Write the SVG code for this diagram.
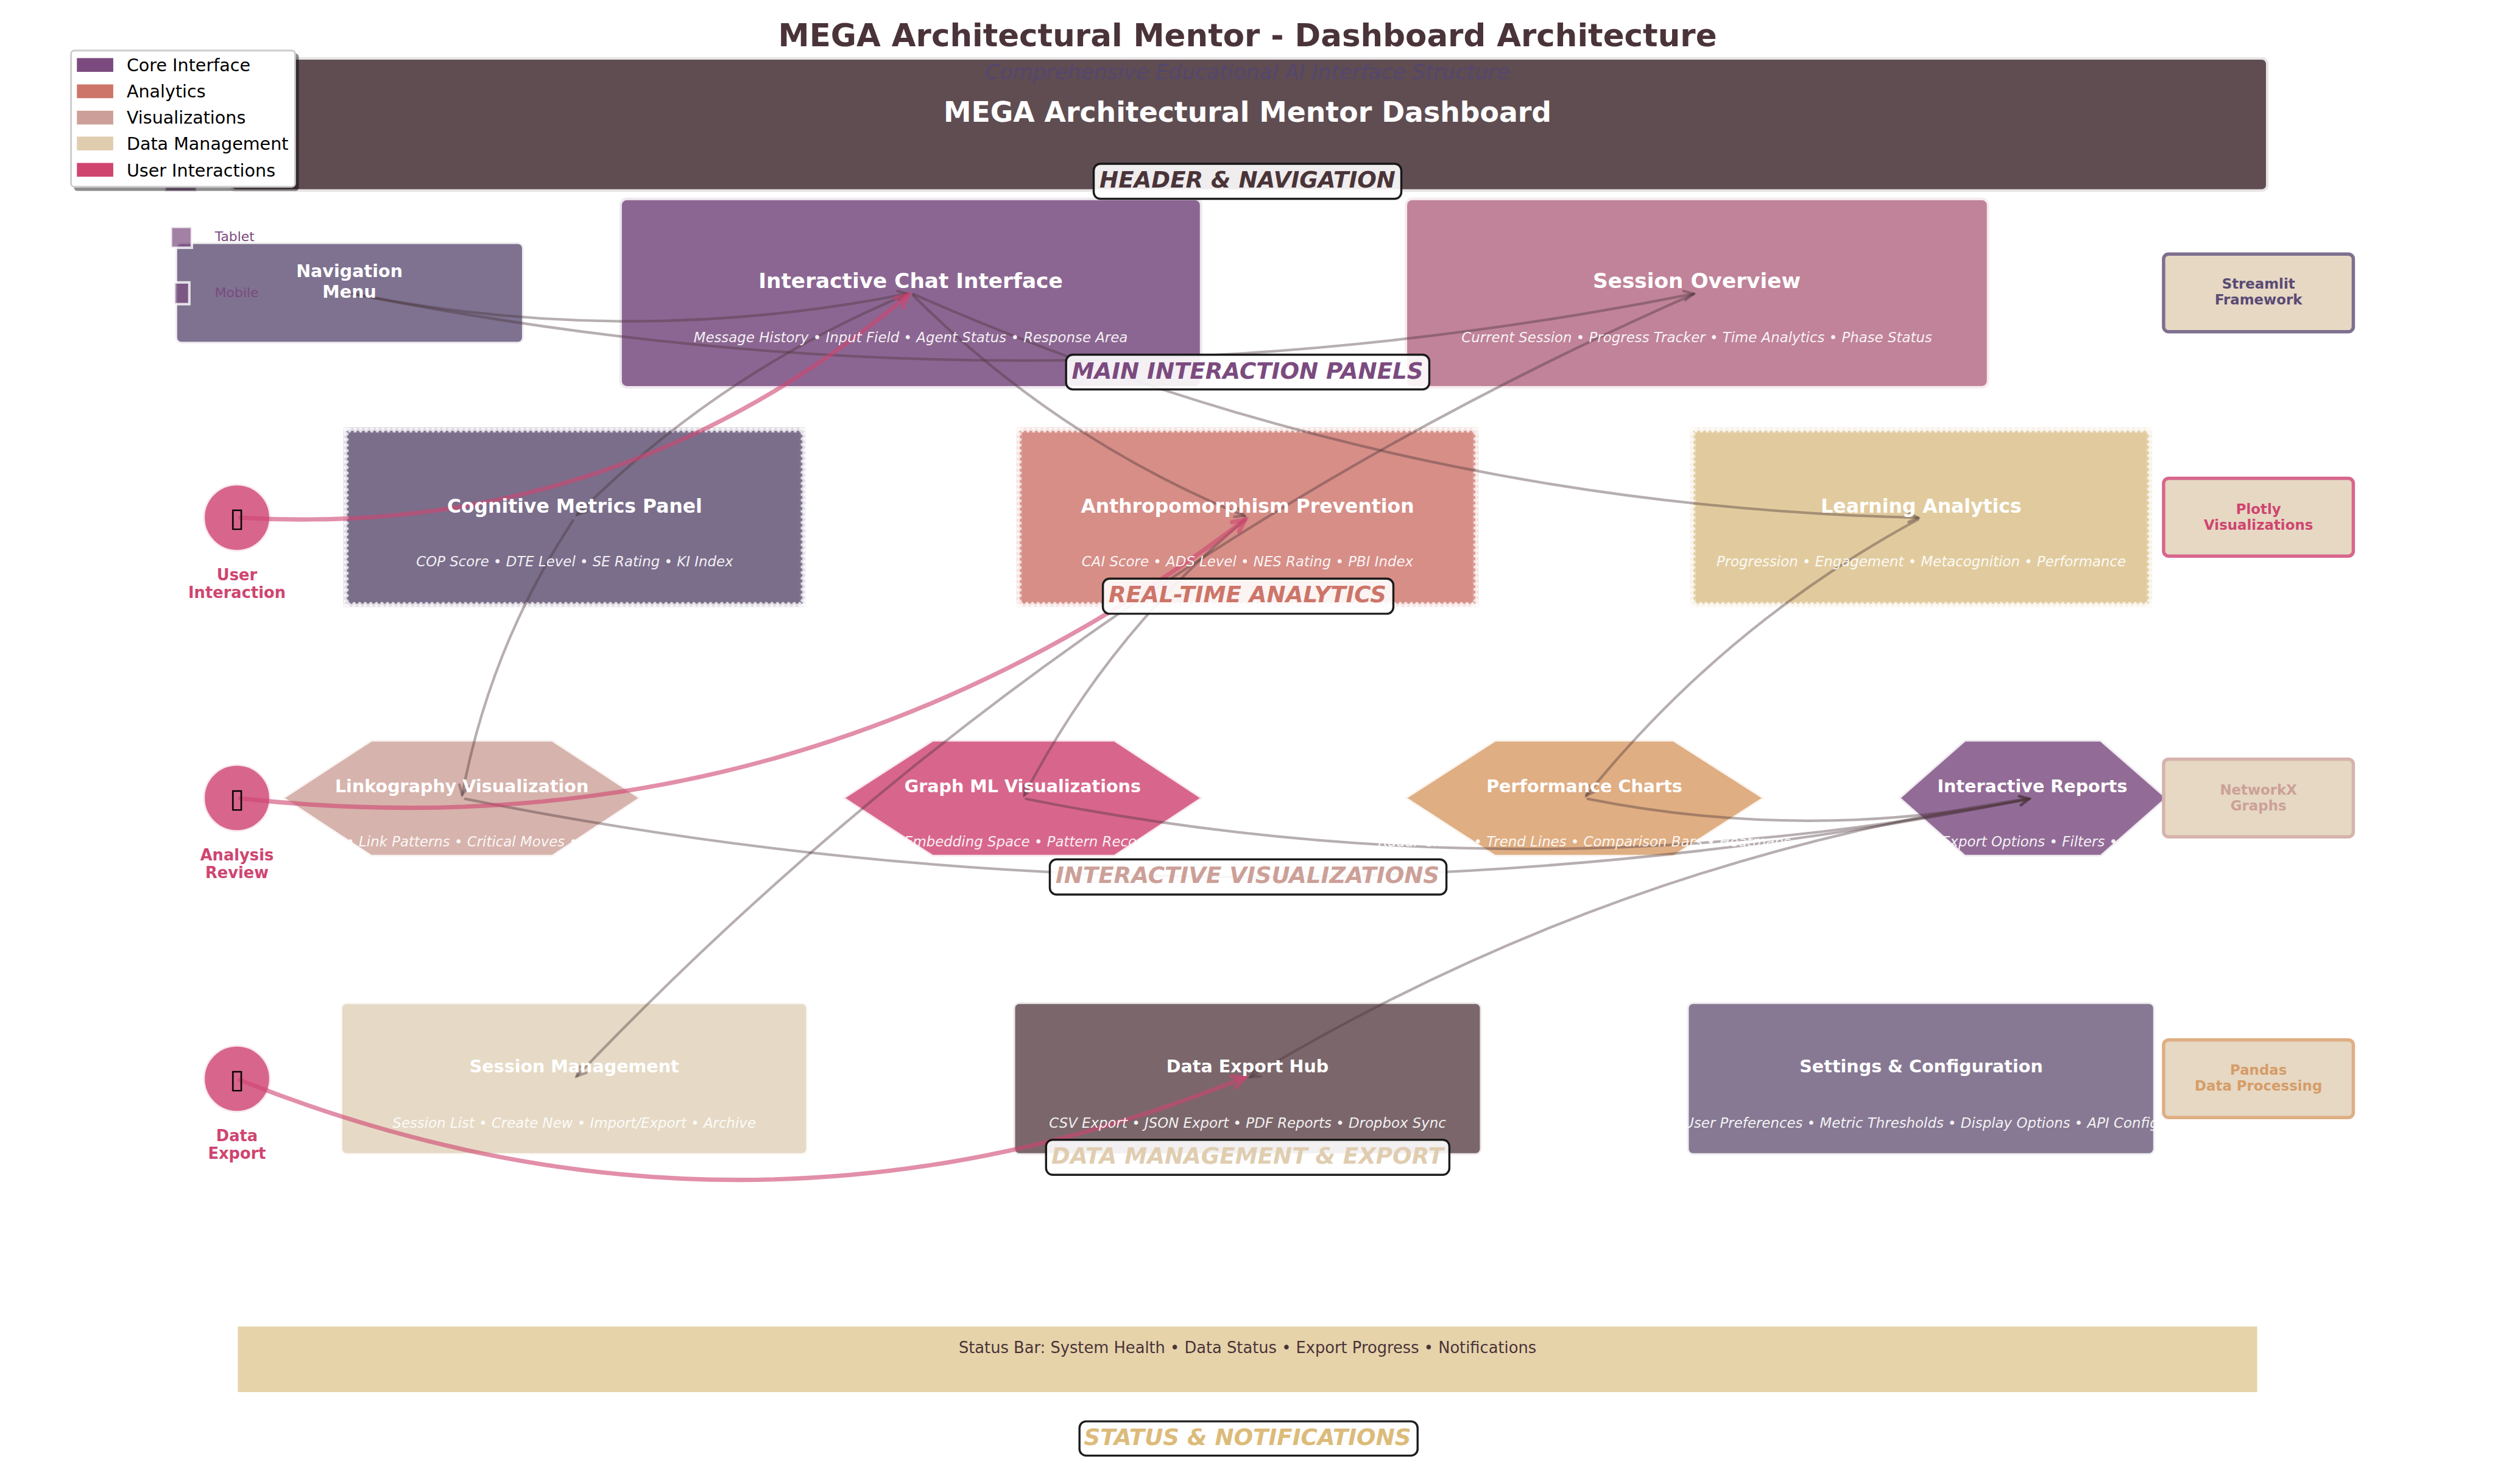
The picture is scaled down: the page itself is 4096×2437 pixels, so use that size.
<svg xmlns="http://www.w3.org/2000/svg" xmlns:xlink="http://www.w3.org/1999/xlink" width="4096" height="2437" viewBox="0 0 4096 2437">
<style>
text{font-family:"DejaVu Sans","Liberation Sans",sans-serif;text-anchor:middle}
.s12{stroke:#fff;stroke-opacity:.85;stroke-width:12}
.s8{stroke:#fff;stroke-opacity:.85;stroke-width:8}
.t12{font-size:50px;font-weight:700;fill:#fff}
.t11{font-size:45.83px;font-weight:700;fill:#fff}
.t10{font-size:41.67px;font-weight:700;fill:#fff}
.sub{font-size:33.33px;font-style:italic;fill:#fff;fill-opacity:.92}
.sec{font-size:54.17px;font-weight:700;font-style:italic}
.secbox{fill:#fff;fill-opacity:.9;stroke:#111;stroke-opacity:.95;stroke-width:5}
.tech{fill:#e6d8c3;stroke-width:8}
.techt{font-size:33.33px;font-weight:700}
.act{font-size:37.5px;font-weight:700;fill:#cf4570}
.ico{font-size:64px;fill:#000}
.leg{font-size:41.67px;fill:#000;text-anchor:start}
.dev{fill:#7b4b7f;fill-opacity:.7;stroke:#fff;stroke-opacity:.8;stroke-width:6}
.devt{font-size:32px;fill:#7b4b7f;text-anchor:start}
.g{fill:none;stroke:#4a3439;stroke-opacity:.4;stroke-width:6.25;stroke-linecap:round;marker-end:url(#ag)}
.p{fill:none;stroke:#cf4570;stroke-opacity:.6;stroke-width:10.4;stroke-linecap:round;marker-end:url(#ap)}
</style>
<defs>
<marker id="ag" markerUnits="userSpaceOnUse" markerWidth="60" markerHeight="60" refX="40" refY="30" orient="auto"><path d="M18,19 L40,30 L18,41" fill="none" stroke="#4a3439" stroke-opacity=".4" stroke-width="6.25" stroke-linecap="round"/></marker>
<marker id="ap" markerUnits="userSpaceOnUse" markerWidth="80" markerHeight="80" refX="50" refY="40" orient="auto"><path d="M22,26 L50,40 L22,54" fill="none" stroke="#cf4570" stroke-opacity=".6" stroke-width="10.4" stroke-linecap="round"/></marker>
<pattern id="teeth" patternUnits="userSpaceOnUse" width="13.33" height="12">
<path d="M0,0H13.33V6L6.67,0L0,6Z" fill="#fff"/>
<path d="M0,6L6.67,0L13.33,6V12L6.67,6L0,12Z" fill="#fff" fill-opacity=".8"/>
</pattern>
<g id="sawedge">
<rect width="1104" height="12" fill="url(#teeth)"/>
<rect width="1104" height="12" fill="url(#teeth)" transform="translate(1104,428) rotate(180)"/>
<rect width="428" height="12" fill="url(#teeth)" transform="translate(0,428) rotate(-90)"/>
<rect width="428" height="12" fill="url(#teeth)" transform="translate(1104,0) rotate(90)"/>
</g>
</defs>
<g transform="scale(0.68610)">
<rect id="background" width="5970" height="3552" fill="#fff"/>

<g id="page-title"><text x="2985" y="111" font-size="75" font-weight="700" fill="#4a3439">MEGA Architectural Mentor - Dashboard Architecture</text></g>

<g id="header">
<rect class="s12" x="549" y="137" width="4879" height="322" rx="16" fill="#5f4d52"/>
<text x="2985" y="190" class="sec" style="font-size:50px;font-weight:400;fill:#54466f">Comprehensive Educational AI Interface Structure</text>
<text x="2985" y="291" font-size="66.67" font-weight="700" fill="#fff">MEGA Architectural Mentor Dashboard</text>
</g>

<g id="nav-menu"><rect class="s8" x="420" y="580" width="833" height="242" rx="14" fill="#7e7290"/></g>
<g id="chat-interface"><rect class="s12" x="1482" y="473" width="1395" height="457" rx="18" fill="#8c6692"/></g>
<g id="session-overview"><rect class="s12" x="3361" y="473" width="1399" height="457" rx="18" fill="#c08399"/></g>

<g id="cognitive-metrics"><g transform="translate(823,1024)"><rect width="1104" height="428" fill="#7b6e8b"/><use xlink:href="#sawedge" href="#sawedge"/></g></g>
<g id="anthropomorphism"><g transform="translate(2433,1024)"><rect width="1104" height="428" fill="#d68e87"/><use xlink:href="#sawedge" href="#sawedge"/></g></g>
<g id="learning-analytics"><g transform="translate(4045,1024)"><rect width="1104" height="428" fill="#e1cb9e"/><use xlink:href="#sawedge" href="#sawedge"/></g></g>

<g id="linkography"><path class="s8" d="M888,1771H1322L1534,1910L1322,2050H888L675,1910Z" fill="#d6b3ac"/></g>
<g id="graph-ml"><path class="s8" d="M2231,1771H2667L2878,1910L2667,2050H2231L2016,1910Z" fill="#d8668c"/></g>
<g id="performance-charts"><path class="s8" d="M3577,1771H4005L4222,1910L4005,2050H3577L3361,1910Z" fill="#dfae83"/></g>
<g id="interactive-reports"><path class="s8" d="M4701,1771H5027L5186,1910L5027,2050H4701L4543,1910Z" fill="#926c97"/></g>

<g id="session-management"><rect class="s8" x="815" y="2399" width="1118" height="365" rx="14" fill="#e6dac6"/></g>
<g id="data-export"><rect class="s8" x="2425" y="2399" width="1120" height="365" rx="14" fill="#7b676b"/></g>
<g id="settings"><rect class="s8" x="4037" y="2399" width="1119" height="365" rx="14" fill="#877993"/></g>

<g id="user-interaction"><circle class="s8" cx="567" cy="1239" r="81" fill="#d8668c"/></g>
<g id="analysis-review"><circle class="s8" cx="567" cy="1910" r="81" fill="#d8668c"/></g>
<g id="data-export-action"><circle class="s8" cx="567" cy="2582" r="81" fill="#d8668c"/></g>

<g id="tech-streamlit">
<rect class="tech" x="5177" y="608" width="454" height="186" rx="12" stroke="#7e6f8f"/>
<text x="5404" y="691" class="techt" fill="#5a4a75">Streamlit</text>
<text x="5404" y="729" class="techt" fill="#5a4a75">Framework</text>
</g>
<g id="tech-plotly">
<rect class="tech" x="5177" y="1145" width="454" height="186" rx="12" stroke="#d8668c"/>
<text x="5404" y="1230" class="techt" fill="#cf4570">Plotly</text>
<text x="5404" y="1268" class="techt" fill="#cf4570">Visualizations</text>
</g>
<g id="tech-networkx">
<rect class="tech" x="5177" y="1817" width="454" height="186" rx="12" stroke="#d6b3ac"/>
<text x="5404" y="1902" class="techt" fill="#cca098">NetworkX</text>
<text x="5404" y="1940" class="techt" fill="#cca098">Graphs</text>
</g>
<g id="tech-pandas">
<rect class="tech" x="5177" y="2489" width="454" height="186" rx="12" stroke="#dfae83"/>
<text x="5404" y="2572" class="techt" fill="#d69c68">Pandas</text>
<text x="5404" y="2610" class="techt" fill="#d69c68">Data Processing</text>
</g>

<g id="status-bar">
<rect x="569" y="3175" width="4832" height="157" fill="#e6d3aa"/>
<text x="2985" y="3238" font-size="37.5" fill="#4a3439">Status Bar: System Health • Data Status • Export Progress • Notifications</text>
</g>

<g id="device-desktop"><rect class="dev" x="394" y="400" width="77" height="59"/></g>
<g id="device-tablet"><rect class="dev" x="409" y="543" width="50" height="50"/><text x="514" y="577" class="devt">Tablet</text></g>
<g id="device-mobile"><rect class="dev" x="417" y="676" width="36" height="52"/><text x="514" y="711" class="devt">Mobile</text></g>

<g id="connectors">
<path class="g" d="M844,703 Q1507,835 2171,703"/>
<path class="g" d="M844,703 Q2448,1023 4052,703"/>
<path class="g" d="M2172,704 Q1723,889 1381,1232"/>
<path class="g" d="M2185,707 Q2528,1050 2978,1235"/>
<path class="g" d="M2186,704 Q3334,1211 4589,1239"/>
<path class="g" d="M1371,1246 Q1173,1547 1106,1902"/>
<path class="g" d="M2979,1244 Q2649,1521 2451,1903"/>
<path class="g" d="M4590,1243 Q4127,1494 3796,1904"/>
<path class="g" d="M4053,704 Q2529,1373 1380,2576"/>
<path class="g" d="M1113,1912 Q2984,2286 4855,1912"/>
<path class="g" d="M2455,1912 Q3655,2152 4855,1912"/>
<path class="g" d="M3799,1912 Q4327,2017 4855,1912"/>
<path class="g" d="M4855,1911 Q3857,2058 2992,2578"/>
<path class="p" d="M575,1239 Q1481,1292 2173,706"/>
<path class="p" d="M575,1911 Q1910,2058 2979,1244"/>
<path class="p" d="M574,2585 Q1776,3066 2978,2579"/>
</g>

<g id="nav-menu-label"><text x="836" y="663" class="t10">Navigation</text><text x="836" y="712" class="t10">Menu</text></g>
<g id="chat-interface-label"><text x="2179" y="689" class="t12">Interactive Chat Interface</text><text x="2179" y="819" class="sub">Message History • Input Field • Agent Status • Response Area</text></g>
<g id="session-overview-label"><text x="4060" y="689" class="t12">Session Overview</text><text x="4060" y="819" class="sub">Current Session • Progress Tracker • Time Analytics • Phase Status</text></g>
<g id="cognitive-metrics-label"><text x="1375" y="1227" class="t11">Cognitive Metrics Panel</text><text x="1375" y="1356" class="sub">COP Score • DTE Level • SE Rating • KI Index</text></g>
<g id="anthropomorphism-label"><text x="2985" y="1227" class="t11">Anthropomorphism Prevention</text><text x="2985" y="1356" class="sub">CAI Score • ADS Level • NES Rating • PBI Index</text></g>
<g id="learning-analytics-label"><text x="4597" y="1227" class="t11">Learning Analytics</text><text x="4597" y="1356" class="sub">Progression • Engagement • Metacognition • Performance</text></g>
<g id="linkography-label"><text x="1105" y="1896" class="t10">Linkography Visualization</text><text x="1105" y="2026" class="sub">• Link Patterns • Critical Moves •</text></g>
<g id="graph-ml-label"><text x="2447" y="1896" class="t10">Graph ML Visualizations</text><text x="2163" y="2026" class="sub" style="text-anchor:start">Embedding Space • Pattern Recognition</text></g>
<g id="performance-charts-label"><text x="3791" y="1896" class="t10">Performance Charts</text><text x="3791" y="2026" class="sub">Radar Charts • Trend Lines • Comparison Bars • Heatmaps</text></g>
<g id="interactive-reports-label"><text x="4863" y="1896" class="t10">Interactive Reports</text><text x="4645" y="2026" class="sub" style="text-anchor:start">Export Options • Filters •</text></g>
<g id="session-management-label"><text x="1374" y="2567" class="t10">Session Management</text><text x="1374" y="2699" class="sub">Session List • Create New • Import/Export • Archive</text></g>
<g id="data-export-label"><text x="2985" y="2567" class="t10">Data Export Hub</text><text x="2985" y="2699" class="sub">CSV Export • JSON Export • PDF Reports • Dropbox Sync</text></g>
<g id="settings-label"><text x="4597" y="2567" class="t10">Settings &amp; Configuration</text><text x="4597" y="2699" class="sub">User Preferences • Metric Thresholds • Display Options • API Config</text></g>
<g id="user-interaction-label"><text x="567" y="1261" class="ico">▯</text><text x="567" y="1389" class="act">User</text><text x="567" y="1431" class="act">Interaction</text></g>
<g id="analysis-review-label"><text x="567" y="1932" class="ico">▯</text><text x="567" y="2060" class="act">Analysis</text><text x="567" y="2102" class="act">Review</text></g>
<g id="data-export-action-label"><text x="567" y="2604" class="ico">▯</text><text x="567" y="2732" class="act">Data</text><text x="567" y="2774" class="act">Export</text></g>

<g id="section-header"><rect class="secbox" x="2617" y="392" width="736" height="84" rx="16"/><text x="2985" y="449" class="sec" fill="#4a3439">HEADER &amp; NAVIGATION</text></g>
<g id="section-main"><rect class="secbox" x="2551" y="849" width="869" height="83" rx="16"/><text x="2985" y="906" class="sec" fill="#7b4b7f">MAIN INTERACTION PANELS</text></g>
<g id="section-analytics"><rect class="secbox" x="2639" y="1385" width="695" height="84" rx="16"/><text x="2985" y="1442" class="sec" fill="#cd7569">REAL-TIME ANALYTICS</text></g>
<g id="section-visualizations"><rect class="secbox" x="2512" y="2057" width="949" height="84" rx="16"/><text x="2985" y="2114" class="sec" fill="#cca098">INTERACTIVE VISUALIZATIONS</text></g>
<g id="section-data"><rect class="secbox" x="2503" y="2728" width="965" height="84" rx="16"/><text x="2985" y="2785" class="sec" fill="#e0cdb0">DATA MANAGEMENT &amp; EXPORT</text></g>
<g id="section-status"><rect class="secbox" x="2583" y="3402" width="809" height="82" rx="16"/><text x="2985" y="3458" class="sec" fill="#dcbb7a">STATUS &amp; NOTIFICATIONS</text></g>

<g id="legend">
<rect x="177" y="128" width="538" height="329" rx="8" fill="#000" fill-opacity=".45"/>
<rect x="170" y="121" width="536" height="326" rx="8" fill="#fff" stroke="#ccc" stroke-width="4.2"/>
<rect x="184" y="139" width="87" height="33" fill="#7b4b7f"/><text x="303" y="171" class="leg">Core Interface</text>
<rect x="184" y="202" width="87" height="33" fill="#cd7569"/><text x="303" y="233" class="leg">Analytics</text>
<rect x="184" y="265" width="87" height="33" fill="#cca098"/><text x="303" y="296" class="leg">Visualizations</text>
<rect x="184" y="327" width="87" height="33" fill="#e0cdb0"/><text x="303" y="359" class="leg">Data Management</text>
<rect x="184" y="390" width="87" height="33" fill="#cf4570"/><text x="303" y="422" class="leg">User Interactions</text>
</g>
</g>
</svg>
